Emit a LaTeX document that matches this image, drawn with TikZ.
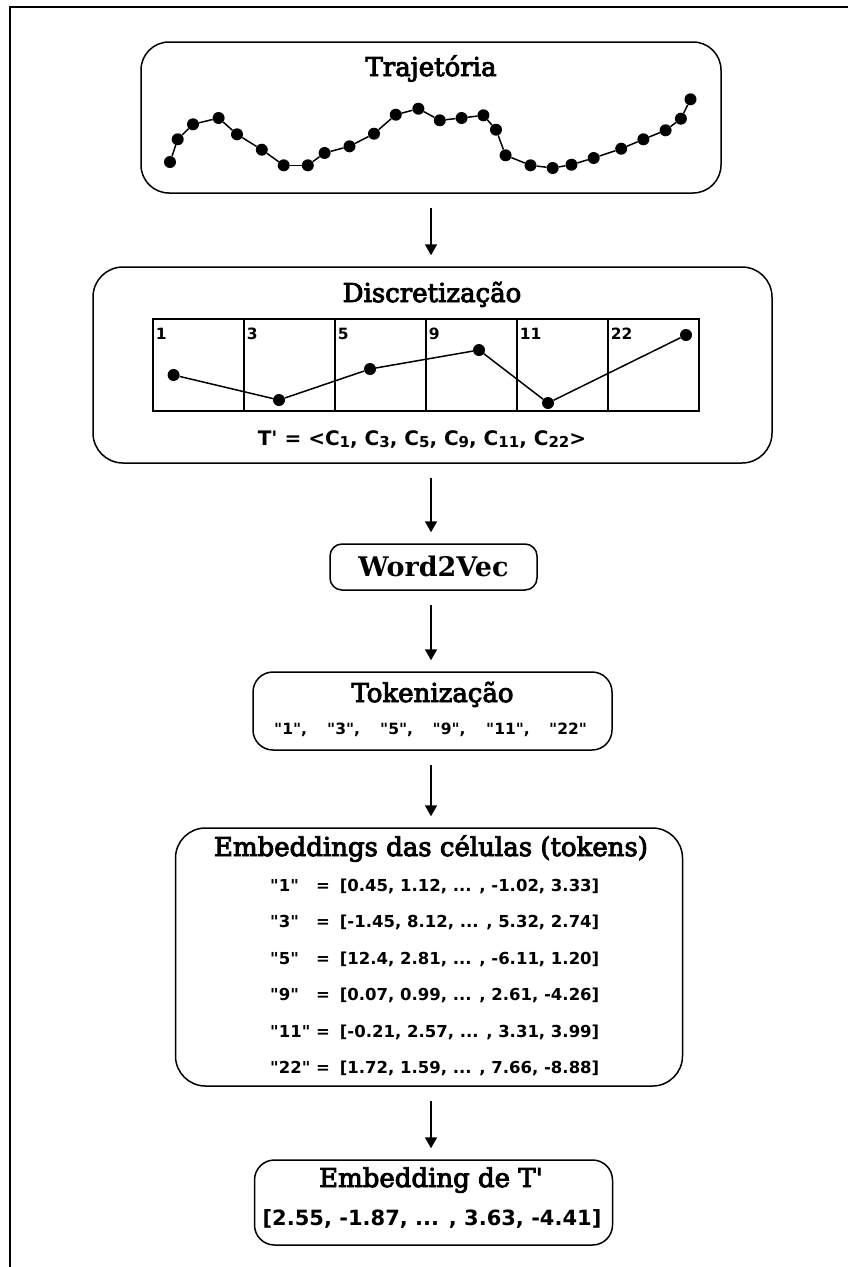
\documentclass[tikz,border=0pt]{standalone}
\usepackage{fontspec}
\setmainfont{DejaVu Serif}
\newfontfamily\titlefont{DejaVu Serif}[FakeBold=3.5]
\newfontfamily\sansbf{DejaVu Sans Bold}
\usetikzlibrary{arrows.meta}
\newcommand\csub[1]{\raisebox{-2pt}{\fontsize{15}{15}\selectfont #1}}
\begin{document}
\begin{tikzpicture}[x=1pt,y=-1pt,
  boxr/.style={draw, line width=1.5pt, rounded corners=#1, inner sep=0pt},
  boxtitle/.style={font=\titlefont\fontsize{26}{30}\selectfont, anchor=base, inner sep=0pt},
  codetxt/.style={font=\sansbf\fontsize{#1}{#1}\selectfont, inner sep=0pt},
  tdot/.style={circle, fill=black, inner sep=0pt, minimum size=12pt},
  conn/.style={line width=1.5pt},
  cellbox/.style={draw, line width=2.8pt, minimum width=91pt, minimum height=92pt, inner sep=0pt},
  flowarrow/.style={line width=1.8pt, -{Triangle[width=12pt,length=11pt]}, shorten <=14pt, shorten >=11pt},
]
\useasboundingbox (0,0) rectangle (848,1267);
% outer frame
\draw[line width=2pt] (10,1267) -- (10,7) -- (848,7);
\coordinate (ax) at (431,0);

% ---------- Box 1: Trajetoria ----------
\node[boxr=28pt, minimum width=580pt, minimum height=151pt] (b1) at (431,117.5) {};
\node[boxtitle] (t1) at (431,76) {Trajetória};
\foreach \p [count=\i] in {
  (170,162),(177.7,139.3),(193,124.3),(218.6,118),(237,134.3),(261.8,149.7),
  (283.7,165.3),(307.8,165.3),(324.6,153),(349.5,146.3),(374,133.7),(395.8,114.7),
  (418.4,108.7),(439.8,120.3),(461.6,118),(483.4,115.3),(496,129.7),(505.6,155.3),
  (530.5,165.3),(552.7,168),(571.5,164.7),(593.7,158),(621.2,148.7),(643.4,139.3),
  (665.6,130.3),(680.9,118.7),(690.5,99.3)}
  \node[tdot] (p\i) at \p {};
\foreach \i [remember=\i as \j (initially 1)] in {2,...,27}
  \draw[conn] (p\j) -- (p\i);

% ---------- Box 2: Discretizacao ----------
\node[boxr=30pt, minimum width=679pt, minimum height=196pt] (b2) at (432.5,365) {};
\node[boxtitle] (t2) at (432,302) {Discretização};
\foreach \lab [count=\i] in {1,3,5,9,11,22} {
  \node[cellbox] (c\i) at ({153+91*(\i-1)+45.5},365) {};
  \node[codetxt=15.5, anchor=base west] (l\i) at (c\i.north west) [xshift=4pt, yshift=-22pt] {\lab};
}
\foreach \p [count=\i] in {(173.6,375),(279,400),(370,369),(479,350),(548,403),(686,335)}
  \node[tdot] (q\i) at \p {};
\draw[conn] (q1) -- (q2) -- (q3) -- (q4) -- (q5) -- (q6);
\node[codetxt=20, anchor=base] (tp) at (422,445)
  {T' = <C\csub{1}, C\csub{3}, C\csub{5}, C\csub{9}, C\csub{11}, C\csub{22}>};

% ---------- Word2Vec ----------
\node[boxr=12pt, minimum width=207pt, minimum height=46pt] (b3) at (433.5,567) {};
\node[boxtitle, font=\bfseries\fontsize{27}{30}\selectfont] (t3) at (433.5,576.5) {Word2Vec};

% ---------- Tokenizacao ----------
\node[boxr=20pt, minimum width=359pt, minimum height=78pt] (b4) at (432.5,711) {};
\node[boxtitle] (t4) at (432.5,702) {Tokenização};
\foreach \tk/\xx [count=\i] in {{"1",}/274,{"3",}/327,{"5",}/380,{"9",}/432.5,{"11",}/486,{"22"}/549}
  \node[codetxt=15.5, anchor=base west] (k\i) at (\xx,734) {\tk};

% ---------- Embeddings das celulas ----------
\node[boxr=30pt, minimum width=507pt, minimum height=258pt] (b5) at (429,957) {};
\node[boxtitle] (t5) at (431,856) {Embeddings das células (tokens)};
\foreach \key/\val/\yy [count=\i] in {
  {"1"}/{[0.45, 1.12, ... , -1.02, 3.33]}/891,
  {"3"}/{[-1.45, 8.12, ... , 5.32, 2.74]}/927.5,
  {"5"}/{[12.4, 2.81, ... , -6.11, 1.20]}/964,
  {"9"}/{[0.07, 0.99, ... , 2.61, -4.26]}/1000.5,
  {"11"}/{[-0.21, 2.57, ... , 3.31, 3.99]}/1037,
  {"22"}/{[1.72, 1.59, ... , 7.66, -8.88]}/1073.5} {
  \node[codetxt=16.5, anchor=base west] (e\i) at (270,\yy) {\key};
  \node[codetxt=16.5, anchor=base west] (v\i) at (316,\yy) {=\hspace{0.6em}\val};
}

% ---------- Embedding de T' ----------
\node[boxr=20pt, minimum width=358pt, minimum height=85pt] (b6) at (433.5,1202.5) {};
\node[boxtitle] (t6) at (431,1187) {Embedding de T\textquotesingle};
\node[codetxt=21, anchor=base] (vec) at (432,1225) {[2.55, -1.87, ... , 3.63, -4.41]};

% ---------- arrows ----------
\draw[flowarrow] (b1.south -| ax) -- (b2.north -| ax);
\draw[flowarrow] (b2.south -| ax) -- (b3.north -| ax);
\draw[flowarrow] (b3.south -| ax) -- (b4.north -| ax);
\draw[flowarrow] (b4.south -| ax) -- (b5.north -| ax);
\draw[flowarrow] (b5.south -| ax) -- (b6.north -| ax);
\end{tikzpicture}
\end{document}
